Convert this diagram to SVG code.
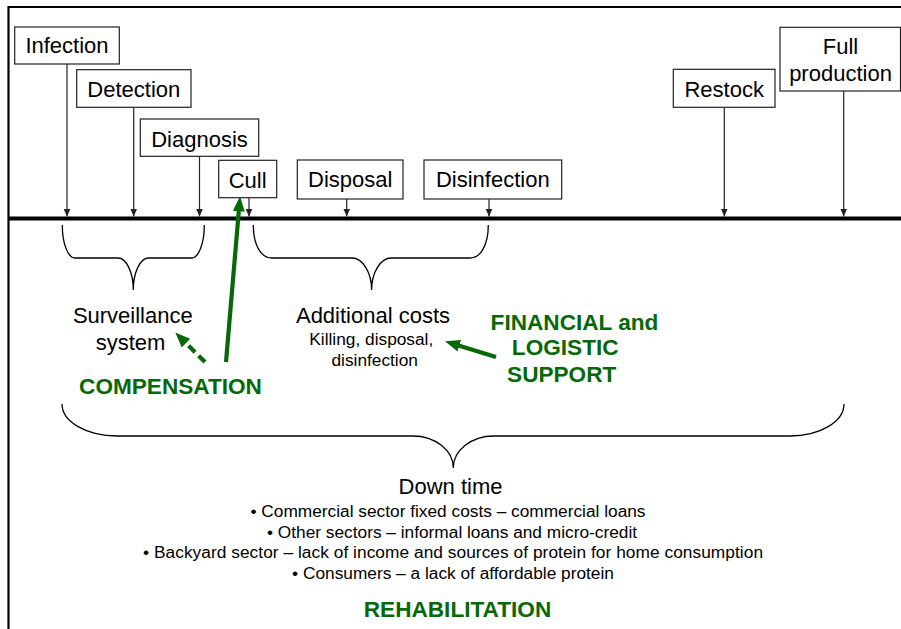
<svg xmlns="http://www.w3.org/2000/svg" width="901" height="629" viewBox="0 0 901 629">
<defs>
<style>
text{font-family:"Liberation Sans",Arial,Helvetica,sans-serif;fill:#000}
.box{fill:#fff;stroke:#222;stroke-width:1.2}
.lbl{font-size:22px;text-anchor:middle}
.sm{font-size:17.3px;text-anchor:middle}
.g{font-size:22.6px;font-weight:bold;fill:#066806;text-anchor:middle}
.conn{stroke:#222;stroke-width:1.2;fill:none}
.brace{stroke:#000;stroke-width:1.3;fill:none}
.garr{stroke:#066806;stroke-width:4.2;fill:none}
</style>
<marker id="bar" markerUnits="userSpaceOnUse" markerWidth="9" markerHeight="8" refX="8" refY="3.5" orient="auto">
<path d="M0,0 L8,3.5 L0,7 z" fill="#222"/>
</marker>
<marker id="gar" markerUnits="userSpaceOnUse" markerWidth="16" markerHeight="12" refX="6" refY="6" orient="auto">
<path d="M0,0 L15,6 L0,12 z" fill="#066806"/>
</marker>
</defs>
<rect width="901" height="629" fill="#fff"/>
<g id="frame">
<path d="M8.5,629 V7 H901" stroke="#000" stroke-width="2.2" fill="none"/>
<line x1="8" y1="218.5" x2="901" y2="218.5" stroke="#000" stroke-width="4.2"/>
</g>
<g id="connectors">
<line class="conn" x1="67" y1="64" x2="67" y2="216.5" marker-end="url(#bar)"/>
<line class="conn" x1="133.7" y1="107.3" x2="133.7" y2="216.5" marker-end="url(#bar)"/>
<line class="conn" x1="199.5" y1="156.3" x2="199.5" y2="216.5" marker-end="url(#bar)"/>
<line class="conn" x1="249" y1="197.7" x2="249" y2="216.5" marker-end="url(#bar)"/>
<line class="conn" x1="346.7" y1="199" x2="346.7" y2="216.5" marker-end="url(#bar)"/>
<line class="conn" x1="489" y1="199" x2="489" y2="216.5" marker-end="url(#bar)"/>
<line class="conn" x1="724.3" y1="107.3" x2="724.3" y2="216.5" marker-end="url(#bar)"/>
<line class="conn" x1="843.7" y1="91" x2="843.7" y2="216.5" marker-end="url(#bar)"/>
<line class="garr" x1="226" y1="362" x2="239.3" y2="205.3" marker-end="url(#gar)"/>
<line class="garr" x1="205" y1="362" x2="181.7" y2="338.9" stroke-dasharray="9,5" marker-end="url(#gar)"/>
<line class="garr" x1="496" y1="357" x2="453.6" y2="344" marker-end="url(#gar)"/>
</g>
<g id="infection"><rect class="box" x="14.7" y="27" width="104.6" height="37"/><text class="lbl" x="67" y="53">Infection</text></g>
<g id="detection"><rect class="box" x="76.7" y="69.7" width="114.3" height="37.6"/><text class="lbl" x="133.8" y="96.7">Detection</text></g>
<g id="diagnosis"><rect class="box" x="140.3" y="119" width="118.4" height="37.3"/><text class="lbl" x="199.5" y="146.7">Diagnosis</text></g>
<g id="cull"><rect class="box" x="218.7" y="160.3" width="58" height="37.4"/><text class="lbl" x="247.7" y="188.3">Cull</text></g>
<g id="disposal"><rect class="box" x="297.3" y="160" width="105.7" height="39"/><text class="lbl" x="350.2" y="186.7">Disposal</text></g>
<g id="disinfection"><rect class="box" x="424" y="160" width="137.7" height="39"/><text class="lbl" x="492.8" y="186.7">Disinfection</text></g>
<g id="restock"><rect class="box" x="673.3" y="69.3" width="101.7" height="38"/><text class="lbl" x="724.2" y="96.7">Restock</text></g>
<g id="full-production"><rect class="box" x="780" y="27.3" width="120.5" height="63.7"/><text class="lbl" x="840.5" y="54">Full</text><text class="lbl" x="840.5" y="80.7">production</text></g>
<g id="brace-surveillance"><path class="brace" d="M62.3,225 C62.3,243.2 67.8,258 75,258 L118,258 C126.3,258 133.3,272.3 133.3,290 C133.3,272.3 140.3,258 148.6,258 L191.6,258 C198.8,258 204.3,243.2 204.3,225"/></g>
<g id="brace-additional"><path class="brace" d="M253.3,225 C253.3,243.2 260,258 272,258 L352,258 C362.5,258 371.6,272.3 371.6,290 C371.6,272.3 380.7,258 391.2,258 L470,258 C481.5,258 488.3,243.2 488.3,225"/></g>
<g id="brace-downtime"><path class="brace" d="M62,404 C62,421.7 86.6,436 117,436 L413,436 C435,436 453.3,450.3 453.3,468 C453.3,450.3 471.6,436 493.6,436 L790,436 C819.8,436 844,421.7 844,404"/></g>
<g id="surveillance"><text class="lbl" x="132.8" y="323.3">Surveillance</text><text class="lbl" x="130.5" y="350">system</text></g>
<g id="additional-costs"><text class="lbl" x="373" y="323.3">Additional costs</text><text class="sm" x="371.3" y="345">Killing, disposal,</text><text class="sm" x="374.7" y="365.7">disinfection</text></g>
<g id="compensation"><text class="g" x="170.5" y="394">COMPENSATION</text></g>
<g id="financial"><text class="g" x="574.5" y="330">FINANCIAL and</text><text class="g" x="565.2" y="355">LOGISTIC</text><text class="g" x="561.7" y="381.7">SUPPORT</text></g>
<g id="downtime">
<text class="lbl" x="450.5" y="494">Down time</text>
<text class="sm" x="448" y="516.7">• Commercial sector fixed costs – commercial loans</text>
<text class="sm" x="452" y="538.3">• Other sectors – informal loans and micro-credit</text>
<text class="sm" x="453" y="558.3" textLength="620" lengthAdjust="spacing">• Backyard sector – lack of income and sources of protein for home consumption</text>
<text class="sm" x="453" y="579.3">• Consumers – a lack of affordable protein</text>
</g>
<g id="rehabilitation"><text class="g" x="457.5" y="616.7">REHABILITATION</text></g>
</svg>
